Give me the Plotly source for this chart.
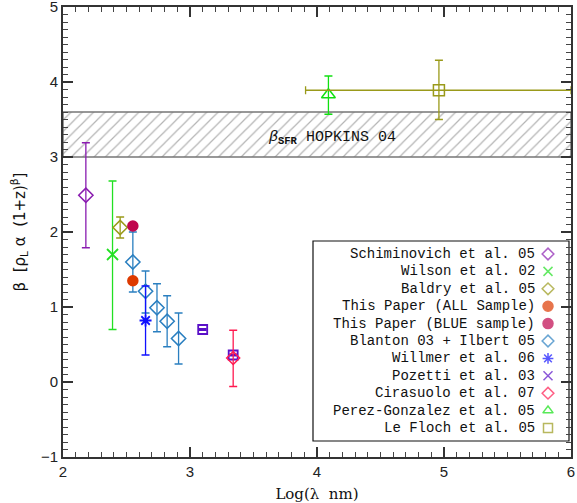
import plotly.graph_objects as go

# ---------------- data ----------------
schim_x = [2.18]; schim_y = [2.49]; schim_lo = [1.79]; schim_hi = [3.19]
wilson_x = [2.39]; wilson_y = [1.70]; wilson_lo = [0.70]; wilson_hi = [2.68]
baldry_x = [2.45]; baldry_y = [2.06]; baldry_lo = [1.92]; baldry_hi = [2.20]
all_x = [2.55]; all_y = [1.35]
blue_x = [2.55]; blue_y = [2.08]
blanton_x = [2.55, 2.65, 2.74, 2.82, 2.91]
blanton_y = [1.60, 1.21, 0.99, 0.81, 0.58]
blanton_lo = [1.20, 0.92, 0.67, 0.47, 0.24]
blanton_hi = [2.00, 1.48, 1.31, 1.15, 0.92]
willmer_x = [2.65]; willmer_y = [0.82]; willmer_lo = [0.36]; willmer_hi = [1.28]
pozetti_x = [3.10, 3.34]; pozetti_y = [0.70, 0.36]
cira_x = [3.34]; cira_y = [0.32]; cira_lo = [-0.06]; cira_hi = [0.69]
perez_x = [4.09]; perez_y = [3.83]; perez_lo = [3.57]; perez_hi = [4.08]
floch_x = [4.96]; floch_y = [3.89]; floch_lo = [3.50]; floch_hi = [4.29]
floch_xlo = [3.91]; floch_xhi = [6.0]
band_x = [2.0, 6.0]; band_low = 3.0; band_high = 3.6

legend_labels = ["Schiminovich et al. 05", "Wilson et al. 02", "Baldry et al. 05",
                 "This Paper (ALL Sample)", "This Paper (BLUE sample)",
                 "Blanton 03 + Ilbert 05", "Willmer et al. 06", "Pozetti et al. 03",
                 "Cirasuolo et al. 07", "Perez-Gonzalez et al. 05", "Le Floch et al. 05"]
legend_symbols = ["diamond-open", "x-thin-open", "diamond-open", "circle", "circle",
                  "diamond-open", "asterisk-open", "x-thin-open", "diamond-open",
                  "triangle-up-open", "square-open"]
legend_colors = ["#8a1cb0", "#22e022", "#9a9a1a", "#dd3a00", "#c0064e",
                 "#2a7fc0", "#1010ff", "#5a10c8", "#ff1a50", "#10e010", "#9a9a1a"]

C = dict(zip(legend_labels, legend_colors))

fig = go.Figure()

# hatched band
fig.add_trace(go.Scatter(
    x=[band_x[0], band_x[1], band_x[1], band_x[0], band_x[0]],
    y=[band_low, band_low, band_high, band_high, band_low],
    mode="lines", fill="toself", fillcolor="rgba(0,0,0,0)",
    fillpattern=dict(shape="/", fgcolor="#6a6a6a", bgcolor="white", size=8, solidity=0.15),
    line=dict(color="#777777", width=1.5), hoverinfo="skip", showlegend=False))


def errs(y, lo, hi):
    return [h - v for v, h in zip(y, hi)], [v - l for v, l in zip(y, lo)]


def add(x, y, sym, col, size, lo=None, hi=None, lw=1.5, xerr=None):
    kw = {}
    if lo is not None:
        p, m = errs(y, lo, hi)
        kw["error_y"] = dict(type="data", array=p, arrayminus=m, color=col,
                             thickness=1.3, width=4)
    if xerr is not None:
        xl, xh = xerr
        kw["error_x"] = dict(type="data", array=[h - v for v, h in zip(x, xh)],
                             arrayminus=[v - l for v, l in zip(x, xl)], color=col,
                             thickness=1.3, width=4)
    fig.add_trace(go.Scatter(x=x, y=y, mode="markers",
                             marker=dict(symbol=sym, size=size, color=col,
                                         line=dict(color=col, width=lw)),
                             showlegend=False, cliponaxis=False, **kw))


add(schim_x, schim_y, "diamond-open", C["Schiminovich et al. 05"], 11, schim_lo, schim_hi)
add(wilson_x, wilson_y, "x-thin-open", C["Wilson et al. 02"], 11, wilson_lo, wilson_hi, lw=1.8)
add(baldry_x, baldry_y, "diamond-open", C["Baldry et al. 05"], 11, baldry_lo, baldry_hi)
add(blanton_x, blanton_y, "diamond-open", C["Blanton 03 + Ilbert 05"], 11, blanton_lo, blanton_hi)
add(all_x, all_y, "circle", C["This Paper (ALL Sample)"], 10)
add(blue_x, blue_y, "circle", C["This Paper (BLUE sample)"], 10)
add(willmer_x, willmer_y, "asterisk-open", C["Willmer et al. 06"], 10, willmer_lo, willmer_hi, lw=1.8)
add(pozetti_x, pozetti_y, "square-open", C["Pozetti et al. 03"], 9,
    [v - 0.01 for v in pozetti_y], [v + 0.01 for v in pozetti_y], lw=1.8)
add(cira_x, cira_y, "diamond-open", C["Cirasuolo et al. 07"], 10, cira_lo, cira_hi)
add(perez_x, perez_y, "triangle-up-open", C["Perez-Gonzalez et al. 05"], 12, perez_lo, perez_hi)
add(floch_x, floch_y, "square-open", C["Le Floch et al. 05"], 11, floch_lo, floch_hi,
    xerr=(floch_xlo, floch_xhi))

# band label
fig.add_annotation(x=3.6, y=3.25, xanchor="left", yanchor="middle", showarrow=False,
                   text="<i>β</i><sub><b>SFR</b></sub> HOPKINS 04",
                   font=dict(family="Liberation Mono", size=15, color="#111"))

# custom legend: box, right-aligned text, symbols on the right
L = 313; R = 569; T = 241; B = 441
W = 577; H = 503
pl, pr, pt, pb = 63, 6, 7, 46
pw = W - pl - pr; ph = H - pt - pb


def px2x(p):
    return (p - pl) / pw


def px2y(p):
    return (H - pb - p) / ph


fig.add_shape(type="rect", xref="paper", yref="paper",
              x0=px2x(L), x1=px2x(R), y0=px2y(B), y1=px2y(T),
              line=dict(color="#111", width=1.2), fillcolor="white", layer="below")

row_y = [px2y(254 + i * 17.4) for i in range(len(legend_labels))]
for lab, yy in zip(legend_labels, row_y):
    fig.add_annotation(x=px2x(537), y=yy, xref="paper", yref="paper", xanchor="right",
                       yanchor="middle", showarrow=False, text=lab,
                       font=dict(family="Liberation Mono", size=14, color="#111"))
sizes = [9 if s != "circle" else 10 for s in legend_symbols]
fig.add_trace(go.Scatter(x=[px2x(548)] * len(legend_labels), y=row_y, mode="markers",
                         xaxis="x2", yaxis="y2", showlegend=False, hoverinfo="skip",
                         cliponaxis=False,
                         marker=dict(symbol=legend_symbols, color=legend_colors, size=sizes,
                                     line=dict(color=legend_colors, width=1.5))))

axis_common = dict(showline=True, linecolor="#333", linewidth=2, mirror="ticks",
                   ticks="inside", ticklen=10, tickwidth=1.5, tickcolor="#333",
                   showgrid=False, zeroline=False, ticklabeloverflow="allow",
                   automargin=False,
                   tickfont=dict(family="Liberation Sans", size=15, color="#222"),
                   minor=dict(ticks="inside", ticklen=5, tickwidth=1.2, tickcolor="#444",
                              dtick=0.1, showgrid=False))

fig.update_layout(
    width=W, height=H, margin=dict(l=pl, r=pr, t=pt, b=pb),
    paper_bgcolor="white", plot_bgcolor="white", showlegend=False,
    xaxis=dict(range=[2, 6], dtick=1, tick0=0,
               title=dict(text="Log(λ  nm)", standoff=14,
                          font=dict(family="DejaVu Serif", size=15, color="#111")),
               **axis_common),
    yaxis=dict(range=[-1, 5], dtick=1, tick0=0,
               title=dict(text="β  [ρ<sub>L</sub> α  (1+z)<sup>β</sup>]", standoff=12,
                          font=dict(family="DejaVu Sans", size=15, color="#111")),
               **axis_common),
    xaxis2=dict(range=[0, 1], overlaying="x", visible=False, fixedrange=True),
    yaxis2=dict(range=[0, 1], overlaying="y", visible=False, fixedrange=True),
)

fig.write_html("out.html")
